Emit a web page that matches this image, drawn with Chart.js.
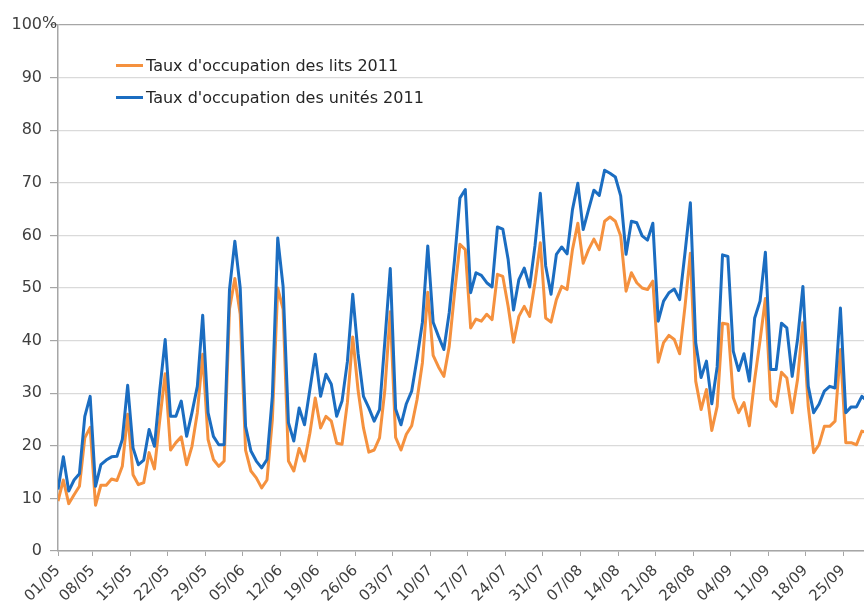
<!DOCTYPE html>
<html>
<head>
<meta charset="utf-8">
<script src="https://cdn.jsdelivr.net/npm/chart.js@4.4.0/dist/chart.umd.min.js"></script>
<style>
  html, body { margin: 0; padding: 0; background: #fff; overflow: hidden; }
  #wrap { position: relative; width: 864px; height: 606px; }
  #legend { position: absolute; left: 116px; top: 49px; font: 16px "DejaVu Sans", sans-serif; color: #262626; }
  .item { display: flex; align-items: center; height: 32px; white-space: nowrap; }
  .swatch { width: 27px; height: 3px; margin-right: 3px; }
</style>
</head>
<body>
<div id="wrap">
  <canvas id="myChart" width="864" height="606"></canvas>
  <div id="legend"></div>
</div>
<script>
// one value per day, starting 01/05
const tickLabels = ['01/05', '08/05', '15/05', '22/05', '29/05', '05/06', '12/06', '19/06', '26/06', '03/07', '10/07',
    '17/07', '24/07', '31/07', '07/08', '14/08', '21/08', '28/08', '04/09', '11/09', '18/09', '25/09'];

const seriesNames = ["Taux d'occupation des lits 2011", "Taux d'occupation des unités 2011"];

const lits = [
    9.5, 13.5, 9.0, 10.7, 12.3, 21.5, 23.5, 8.7, 12.5, 12.5,
    13.7, 13.4, 16.1, 26.0, 14.5, 12.6, 13.0, 18.7, 15.6, 25.0,
    33.7, 19.2, 20.6, 21.7, 16.4, 19.9, 26.3, 37.4, 21.2, 17.4,
    16.1, 17.1, 46.0, 51.8, 45.0, 19.2, 15.2, 13.9, 12.0, 13.5,
    25.0, 50.0, 46.0, 17.1, 15.2, 19.5, 17.1, 22.4, 29.1, 23.4,
    25.6, 24.7, 20.5, 20.3, 28.2, 40.7, 30.5, 23.4, 18.8, 19.2,
    21.5, 30.7, 45.5, 21.6, 19.2, 22.2, 23.8, 28.8, 35.8, 49.2,
    37.2, 35.0, 33.2, 38.9, 49.1, 58.3, 57.3, 42.4, 44.1, 43.7,
    45.0, 44.0, 52.6, 52.2, 46.5, 39.7, 44.6, 46.5, 44.6, 51.0,
    58.6, 44.3, 43.5, 47.8, 50.3, 49.7, 57.3, 62.3, 54.7, 57.3,
    59.3, 57.3, 62.7, 63.5, 62.7, 59.9, 49.4, 52.9, 51.0, 50.0,
    49.7, 51.3, 35.9, 39.6, 41.0, 40.2, 37.5, 46.5, 56.6, 32.3,
    26.9, 30.7, 22.9, 27.5, 43.3, 43.1, 29.2, 26.3, 28.2, 23.8,
    32.6, 40.0, 48.0, 28.8, 27.5, 34.0, 32.9, 26.3, 32.6, 43.4,
    27.5, 18.7, 20.2, 23.7, 23.7, 24.7, 38.3, 20.6, 20.6, 20.2,
    22.8, 22.5
];

const unites = [
    11.7, 17.9, 11.4, 13.5, 14.7, 25.6, 29.4, 12.3, 16.4, 17.3,
    17.9, 18.0, 21.2, 31.5, 19.6, 16.4, 17.3, 23.1, 19.9, 30.7,
    40.2, 25.6, 25.6, 28.5, 21.8, 26.3, 31.3, 44.8, 26.3, 21.8,
    20.2, 20.2, 49.7, 58.9, 50.0, 23.7, 19.0, 17.1, 15.8, 17.4,
    29.4, 59.5, 50.3, 24.4, 20.9, 27.2, 24.0, 30.7, 37.4, 29.4,
    33.6, 31.7, 25.6, 28.5, 36.0, 48.8, 37.5, 29.4, 27.2, 24.7,
    26.9, 40.0, 53.7, 27.0, 24.0, 28.0, 30.4, 36.6, 43.5, 58.0,
    43.5, 40.8, 38.3, 45.3, 55.4, 67.1, 68.7, 49.1, 52.9, 52.4,
    51.0, 50.2, 61.6, 61.2, 55.4, 45.8, 51.6, 53.8, 50.2, 58.0,
    68.0, 54.2, 48.8, 56.4, 57.8, 56.5, 64.9, 69.9, 61.1, 64.9,
    68.6, 67.6, 72.4, 71.8, 71.1, 67.5, 56.4, 62.7, 62.4, 59.9,
    59.1, 62.3, 43.7, 47.5, 49.1, 49.8, 47.8, 56.7, 66.2, 39.6,
    33.0, 36.1, 28.0, 35.0, 56.3, 56.0, 38.0, 34.3, 37.5, 32.3,
    44.3, 47.5, 56.8, 34.5, 34.5, 43.3, 42.4, 33.2, 40.2, 50.3,
    31.3, 26.3, 27.9, 30.4, 31.3, 31.0, 46.2, 26.3, 27.4, 27.4,
    29.4, 28.5
];

const colors = ['#F5913E', '#1B6DC1'];
const textColor = '#404040';
const axisColor = '#a6a6a6';

const toPoints = arr => arr.map((v, i) => ({ x: i, y: v }));

// the "%" written after the 100 label
const percentSign = {
    id: 'percentSign',
    afterDraw(chart) {
        const y = chart.scales.y;
        const c = chart.ctx;
        c.save();
        c.font = '16px "DejaVu Sans"';
        c.fillStyle = textColor;
        c.textAlign = 'left';
        c.textBaseline = 'middle';
        c.fillText('%', y.right - 16, y.getPixelForValue(100) - 1);
        c.restore();
    }
};

const ctx = document.getElementById('myChart').getContext('2d');
const myChart = new Chart(ctx, {
    type: 'line',
    data: {
        datasets: [
            { label: seriesNames[0], data: toPoints(lits), borderColor: colors[0], backgroundColor: colors[0], order: 1 },
            { label: seriesNames[1], data: toPoints(unites), borderColor: colors[1], backgroundColor: colors[1], order: 0 }
        ]
    },
    options: {
        responsive: false,
        animation: false,
        devicePixelRatio: 1,
        layout: { padding: { top: 25, left: 0, right: 0, bottom: 0 } },
        elements: {
            line: { borderWidth: 3, tension: 0, borderJoinStyle: 'round' },
            point: { radius: 0 }
        },
        scales: {
            x: {
                type: 'linear',
                min: 0,
                max: 150.4,
                afterBuildTicks: s => { s.ticks = tickLabels.map((_, k) => ({ value: k === 0 ? 0 : 7 * k - 0.5 })); },
                afterFit: s => { s.height = 55; },
                ticks: {
                    autoSkip: false, minRotation: 45, maxRotation: 45, padding: 6,
                    color: textColor, font: { family: 'DejaVu Sans', size: 15 },
                    callback: (v, i) => tickLabels[i]
                },
                grid: { drawOnChartArea: false, tickLength: 5, tickColor: axisColor },
                border: { color: axisColor, width: 1.5 }
            },
            y: {
                min: 0,
                max: 100,
                afterFit: s => { s.width = 58; },
                ticks: {
                    stepSize: 10, padding: 8,
                    color: textColor, font: { family: 'DejaVu Sans', size: 16 }
                },
                grid: {
                    color: c => c.tick && c.tick.value === 100 ? axisColor : '#dadada',
                    lineWidth: 1.2, tickLength: 8, tickColor: axisColor
                },
                border: { color: axisColor, width: 1.5 }
            }
        },
        plugins: {
            legend: { display: false },
            tooltip: { enabled: false }
        }
    },
    plugins: [percentSign]
});

// legend inside the plot, top left
const legendBox = document.getElementById('legend');
myChart.data.datasets.forEach(ds => {
    const item = document.createElement('div');
    item.className = 'item';
    const sw = document.createElement('span');
    sw.className = 'swatch';
    sw.style.background = ds.borderColor;
    const txt = document.createElement('span');
    txt.textContent = ds.label;
    item.appendChild(sw);
    item.appendChild(txt);
    legendBox.appendChild(item);
});
</script>
</body>
</html>
